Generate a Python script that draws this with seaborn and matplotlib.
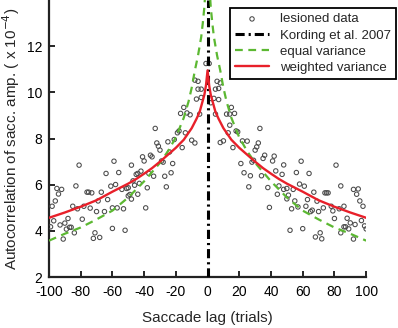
import numpy as np
import pandas as pd
import matplotlib
matplotlib.use('Agg')
import matplotlib.pyplot as plt
import seaborn as sns

# lesioned data (lag in trials, autocorrelation x 1e-4)
data_lag = [
    -81, -59, -64, -56, -83, -95, -92, -94, -76, -75, -73, -67, -61, -58, -54, -51,
    -96, -69, -63, -98, -85, -82, -78, -74, -70, -65, -60, -57, -53, -50, -97, -93,
    -90, -88, -87, -86, -89, -84, -99, -91, -79, -71, -72, -68, -60, -52,
    -7, -4, -15, -13, -17, -11, -5, -33, -18, -19, -14, -21, -25, -10, -8, -32,
    -31, -30, -16, -36, -35, -40, -41, -24, -29, -28, -22, -48, -42, -44, -45, -37,
    -34, -27, -23, -47, -50, -46, -43, -38, -26, -49, -44, -48, -39,
    -1, 1, -8, -6, 6, 8, -6, -4, 5, 7, 2,
    4, 7, 15, 12, 14, 17, 5, 14, 18, 19, 13, 33, 22, 25, 8, 10, 32, 31, 30, 16,
    36, 35, 42, 41, 29, 21, 48, 23, 27, 34, 43, 47, 26, 38, 45, 48, 44, 50, 51,
    39, 52, 28,
    59, 81, 56, 64, 58, 61, 84, 50, 54, 67, 74, 75, 76, 92, 95, 94, 55, 57, 53,
    63, 69, 86, 96, 98, 62, 65, 66, 70, 73, 78, 79, 83, 88, 90, 93, 89, 86, 87,
    97, 99, 100, 80, 60, 71, 68, 72, 84, 92,
]
data_val = [
    6.85, 7.02, 6.49, 6.53, 5.95, 5.84, 5.80, 5.60, 5.68, 5.68, 5.65, 5.68, 5.94, 6.01, 5.80, 5.84,
    5.30, 5.30, 5.36, 5.07, 5.07, 4.96, 5.07, 4.99, 4.84, 4.84, 5.00, 5.00, 4.96, 5.52, 4.44, 4.26,
    4.34, 4.54, 4.16, 4.16, 4.08, 3.92, 4.18, 3.65, 4.51, 3.92, 3.68, 3.72, 4.11, 4.03,
    9.71, 9.78, 9.35, 9.11, 9.09, 9.03, 9.06, 8.44, 8.33, 8.25, 8.25, 7.96, 7.86, 7.93, 7.81, 7.81,
    7.67, 7.50, 7.61, 7.28, 7.21, 7.03, 7.21, 7.42, 7.03, 6.98, 6.92, 6.85, 6.59, 6.49, 6.45, 6.49,
    6.37, 6.37, 6.52, 6.17, 5.87, 5.98, 6.06, 5.87, 5.91, 5.58, 5.59, 5.38, 5.00,
    11.25, 11.25, 10.53, 10.48, 10.48, 10.41, 10.14, 10.14, 10.14, 10.17, 9.55,
    9.74, 9.69, 9.35, 9.06, 9.06, 9.09, 9.06, 8.58, 8.33, 8.29, 8.25, 8.44, 7.90, 7.89, 7.83, 7.90, 7.81, 7.64, 7.50, 7.61,
    7.28, 7.14, 7.24, 7.03, 7.06, 6.92, 6.86, 6.52, 6.39, 6.39, 6.60, 6.45, 5.91, 5.88, 5.95, 5.80, 5.59, 5.39, 5.55,
    5.02, 4.03, 6.98,
    7.02, 6.85, 6.53, 6.49, 6.03, 5.94, 5.95, 5.84, 5.80, 5.68, 5.65, 5.65, 5.65, 5.80, 5.82, 5.59, 5.30, 5.04, 4.96,
    5.36, 5.29, 5.07, 5.30, 5.07, 5.07, 4.84, 4.90, 4.84, 5.00, 5.07, 4.87, 4.96, 4.55, 4.35, 4.28, 4.09, 4.18, 4.18,
    4.45, 4.22, 4.09, 4.54, 4.10, 3.92, 3.74, 3.66, 3.92, 3.65,
]

# Kording et al. 2007 model (practically a spike at lag 0)
kord_lag = [0, 0]
kord_val = [2, 14]

# equal variance model
eq_lag = [-100, -90, -80, -70, -60, -50, -40, -30, -25, -20, -15, -12, -10, -8, -6, -4, -3, -2, -1, 0,
          1, 2, 3, 4, 6, 8, 10, 12, 15, 20, 25, 30, 40, 50, 60, 70, 80, 90, 100]
eq_val = [3.58, 3.88, 4.15, 4.50, 4.88, 5.45, 6.15, 6.95, 7.45, 8.05, 8.90, 9.60, 10.20, 10.95, 11.60, 12.40, 13.0, 13.7, 14.8, 16.0,
          14.8, 13.7, 13.0, 12.40, 11.60, 10.95, 10.20, 9.60, 8.90, 8.05, 7.45, 6.95, 6.15, 5.45, 4.88, 4.50, 4.15, 3.88, 3.58]

# weighted variance model
wt_lag = [-100, -90, -80, -70, -60, -50, -45, -40, -35, -30, -25, -20, -15, -10, -7, -5, -3, -2, -1, 0,
          1, 2, 3, 5, 7, 10, 15, 20, 25, 30, 35, 40, 45, 50, 60, 70, 80, 90, 100]
wt_val = [4.57, 4.80, 5.05, 5.33, 5.70, 6.05, 6.25, 6.48, 6.72, 7.00, 7.30, 7.60, 7.95, 8.45, 8.85, 9.15, 9.65, 9.90, 10.30, 10.95,
          10.30, 9.90, 9.65, 9.15, 8.85, 8.45, 7.95, 7.60, 7.30, 7.00, 6.72, 6.48, 6.25, 6.05, 5.70, 5.33, 5.05, 4.80, 4.57]

kord_dash = (3, 1.3, 0.7, 1.3)
eq_dash = (3.5, 2.5)

sns.set_style('ticks')
plt.rcParams['font.family'] = ['Liberation Sans', 'DejaVu Sans']
plt.rcParams['axes.unicode_minus'] = False

fig = plt.figure(figsize=(3.98, 3.28), dpi=100)
ax = fig.add_axes([0.123, 0.155, 0.797, 0.845])

sns.scatterplot(x=data_lag, y=data_val, ax=ax, marker='o', s=10, facecolor='none',
                edgecolor='#4a4a4a', linewidth=0.75, label='lesioned data', zorder=3)
sns.lineplot(x=kord_lag, y=kord_val, ax=ax, color='black', linewidth=2.2,
             estimator=None, label='Kording et al. 2007', sort=False, zorder=4)
ax.lines[-1].set_dashes(kord_dash)
sns.lineplot(x=eq_lag, y=eq_val, ax=ax, color='#5cb832', linewidth=1.6,
             estimator=None, label='equal variance', sort=False, zorder=5)
ax.lines[-1].set_dashes(eq_dash)
sns.lineplot(x=wt_lag, y=wt_val, ax=ax, color='#e8202a', linewidth=1.7,
             estimator=None, label='weighted variance', sort=False, zorder=6)

ax.set_xlim(-100, 100)
ax.set_ylim(2, 14)
ax.set_xticks(range(-100, 101, 20))
ax.set_yticks(range(2, 13, 2))
ax.tick_params(direction='in', length=4, width=1.2, labelsize=10, colors='black')
ax.tick_params(axis='x', pad=6)
ax.tick_params(axis='y', pad=5)
for side in ['left', 'bottom']:
    ax.spines[side].set_linewidth(1.6)
    ax.spines[side].set_color('#222222')
sns.despine(ax=ax)

ax.set_xlabel('Saccade lag (trials)', fontsize=11, labelpad=8)
ax.set_ylabel('Autocorrelation of sacc. amp. ( x 10$^{-4}$)', fontsize=11, labelpad=3)

leg = ax.legend(loc='upper right', bbox_to_anchor=(0.995, 0.976), bbox_transform=fig.transFigure,
                fontsize=9.5, frameon=True, fancybox=False, handlelength=2.6,
                borderpad=0.4, labelspacing=0.3, handletextpad=0.8, borderaxespad=0)
leg.get_frame().set_edgecolor('black')
leg.get_frame().set_linewidth(1.3)
leg.get_frame().set_alpha(1)
handles = leg.legend_handles
handles[1].set_dashes(kord_dash)
handles[2].set_dashes(eq_dash)

fig.savefig('out.png', dpi=100)
